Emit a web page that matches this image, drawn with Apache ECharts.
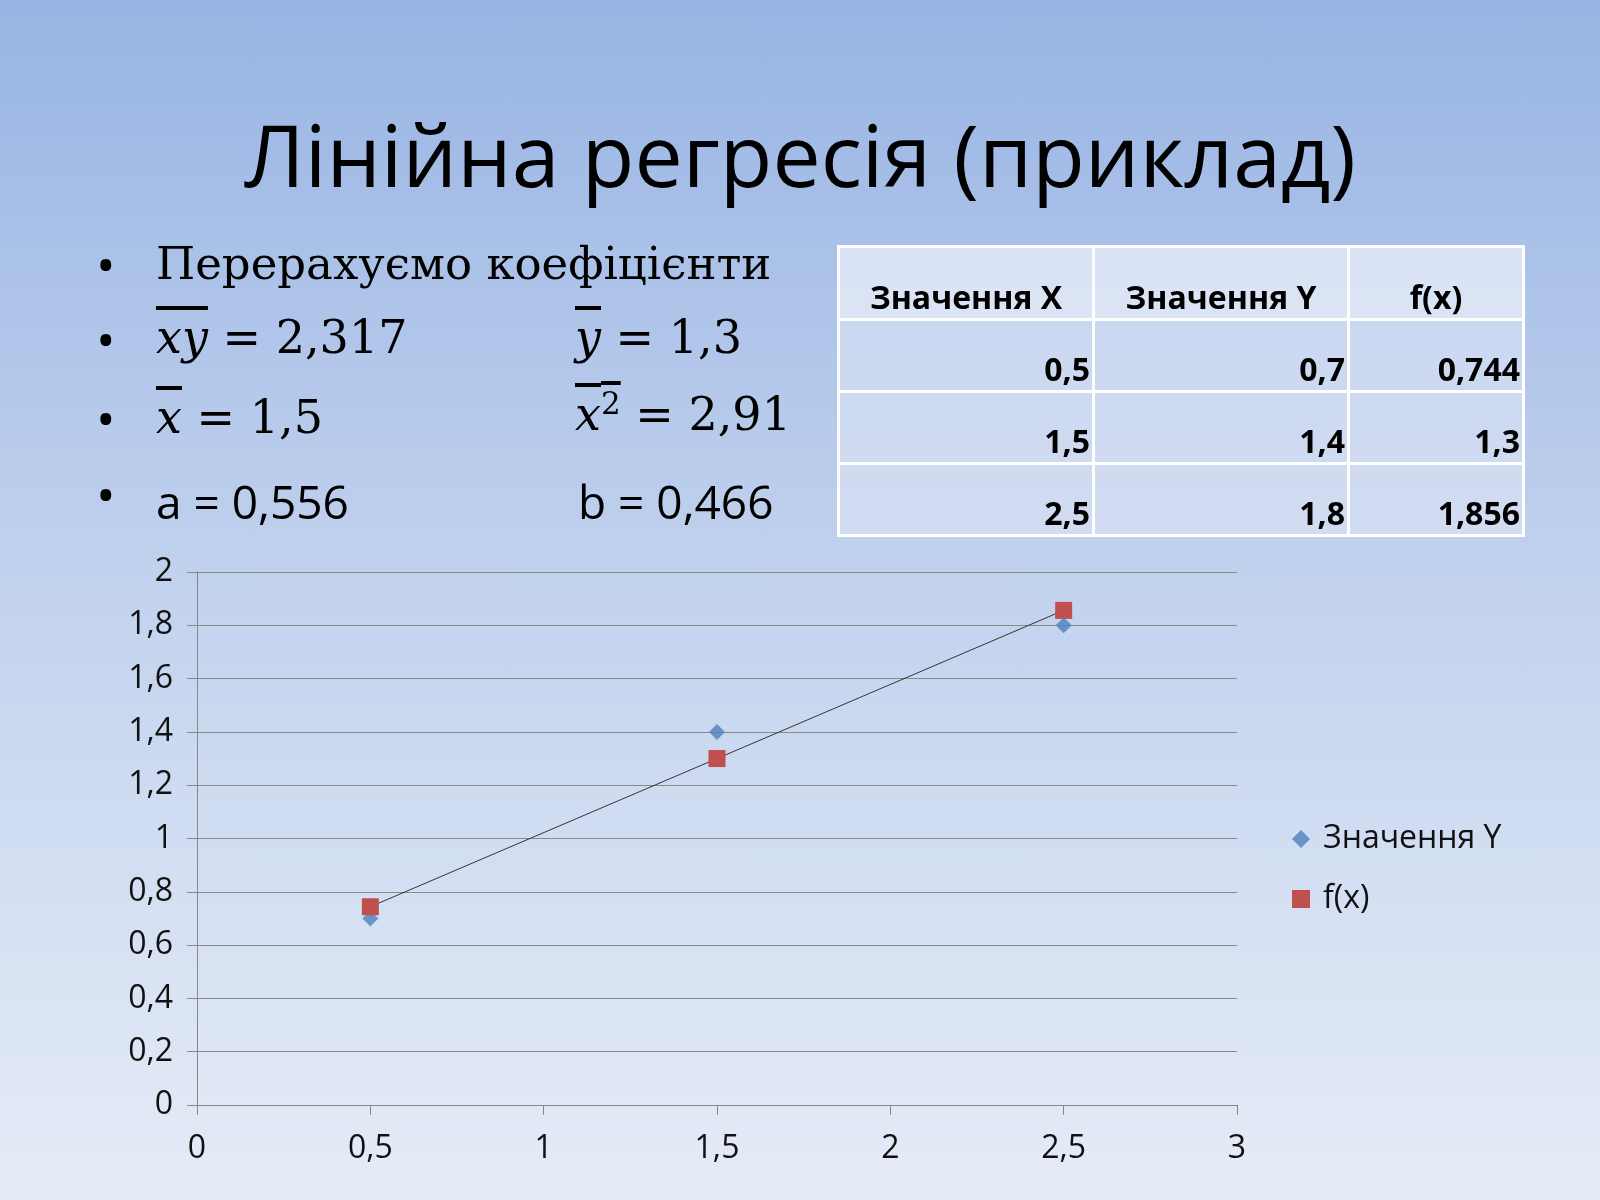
<!DOCTYPE html>
<html><head><meta charset="utf-8">
<script src="https://cdn.jsdelivr.net/npm/echarts@6/dist/echarts.min.js"></script>
<style>
html,body{margin:0;width:1600px;height:1200px;overflow:hidden;font-family:"Open Sans","Noto Sans",sans-serif;}
body{background:linear-gradient(#98b4e4,#c3d3ee 50%,#e6ecf7);position:relative;}
#chart{position:absolute;left:0;top:0;width:1600px;height:1200px;}
.t{position:absolute;color:#000;white-space:nowrap;}
.m{font-family:"DejaVu Serif","Liberation Serif",serif;font-size:46px;}
.m i{font-style:italic;}
.ov{text-decoration:overline;}
.b{font-size:52px;}
table{position:absolute;left:837px;top:245px;border-collapse:collapse;font-weight:bold;font-size:32px;}
td{border:3px solid #fff;background:rgba(225,232,245,0.55);height:69px;padding:0 2px;vertical-align:bottom;text-align:right;}
tr.h td{height:70px;text-align:center;background:rgba(255,255,255,0.55);}
</style></head><body>
<div id="chart"></div>
<div class="t" style="left:0;width:1600px;text-align:center;top:95px;font-size:86px;">Лінійна регресія (приклад)</div>
<div class="t b" style="left:96px;top:228px;">•</div>
<div class="t b" style="left:96px;top:303px;">•</div>
<div class="t b" style="left:96px;top:382px;">•</div>
<div class="t b" style="left:96px;top:458px;">•</div>
<div class="t" style="left:156px;top:237px;font-size:45px;font-family:'DejaVu Serif','Liberation Serif',serif;">Перерахуємо коефіцієнти</div>
<div class="t m" style="left:156px;top:310px;"><i class="ov">xy</i> = 2,317</div>
<div class="t m" style="left:575px;top:310px;"><i class="ov">y</i> = 1,3</div>
<div class="t m" style="left:156px;top:390px;"><i class="ov">x</i> = 1,5</div>
<div class="t m" style="left:575px;top:385px;"><span class="ov"><i>x</i><sup style="font-size:31px">2</sup></span> = 2,91</div>
<div class="t" style="left:156px;top:470px;font-size:46px;">a = 0,556</div>
<div class="t" style="left:578px;top:470px;font-size:46px;">b = 0,466</div>
<table>
<tr class="h"><td style="width:248px">Значення X</td><td style="width:248px">Значення Y</td><td style="width:168px">f(x)</td></tr>
<tr><td>0,5</td><td>0,7</td><td>0,744</td></tr>
<tr><td>1,5</td><td>1,4</td><td>1,3</td></tr>
<tr><td>2,5</td><td>1,8</td><td>1,856</td></tr>
</table>
<script>
const xValues=[0.5,1.5,2.5];
const yValues=[0.7,1.4,1.8];
const fValues=[0.744,1.3,1.856];
const fmt=v=>String(Math.round(v*10)/10).replace('.',',');
const c=echarts.init(document.getElementById('chart'));
c.setOption({
 animation:false,
 grid:{left:197,right:363,top:572,bottom:95},
 legend:{orient:'vertical',left:1287,top:818,itemGap:28,itemWidth:18,itemHeight:18,textStyle:{fontSize:32,color:'#111',fontFamily:'Open Sans',padding:[0,0,0,8]},
  data:[{name:'Значення Y',icon:'diamond'},{name:'f(x)',icon:'rect'}]},
 xAxis:{type:'value',min:0,max:3,interval:0.5,splitLine:{show:false},
  axisLine:{lineStyle:{color:'#888'}},axisTick:{show:true,length:10,lineStyle:{color:'#888'}},
  axisLabel:{formatter:fmt,fontSize:32,color:'#111',margin:28,fontFamily:'Open Sans'}},
 yAxis:{type:'value',min:0,max:2,interval:0.2,
  axisLine:{show:true,lineStyle:{color:'#888'}},axisTick:{show:true,length:10,lineStyle:{color:'#888'}},
  splitLine:{lineStyle:{color:'#8a8a8a'}},
  axisLabel:{formatter:fmt,fontSize:32,color:'#111',margin:24,fontFamily:'Open Sans'}},
 series:[
  {name:'Значення Y',type:'scatter',symbol:'diamond',symbolSize:16,itemStyle:{color:'#4f81bd'},data:xValues.map((x,i)=>[x,yValues[i]])},
  {name:'f(x)',type:'line',symbol:'rect',symbolSize:17,itemStyle:{color:'#c0504d'},lineStyle:{color:'#333',width:1},data:xValues.map((x,i)=>[x,fValues[i]])}
 ]
});
</script>
</body></html>
